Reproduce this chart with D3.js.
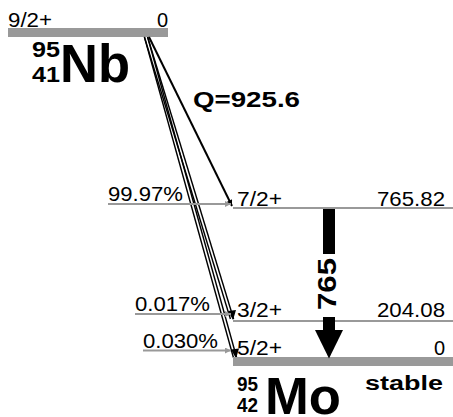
<!DOCTYPE html>
<html>
<head>
<meta charset="utf-8">
<script src="https://cdn.jsdelivr.net/npm/d3@7/dist/d3.min.js"></script>
<style>
  html, body { margin: 0; padding: 0; background: #fff; }
  svg { display: block; font-family: "Liberation Sans", Arial, sans-serif; }
</style>
</head>
<body>
<svg id="chart" width="453" height="417"></svg>
<script>
// Decay of 95Nb (9/2+, Q = 925.6 keV) to levels of 95Mo
const parentLevel = { spin: "9/2+", energy: "0", mass: "95", z: "41", symbol: "Nb" };
const qValue = 925.6;
const levelEnergies = [765.82, 204.08, 0];
const levelSpins = ["7/2+", "3/2+", "5/2+"];
const levelLabels = ["765.82", "204.08", "0"];
const branchIntensities = ["99.97%", "0.017%", "0.030%"];
const gammaEnergies = ["765"];
const daughter = { mass: "95", z: "42", symbol: "Mo", note: "stable" };

const svg = d3.select("#chart");
const grey = "#999";

// piecewise energy axis (the scheme is not drawn to scale)
const y = d3.scaleLinear()
  .domain([0, 204.08, 765.82, qValue])
  .range([361.5, 321, 208, 32.5]);

const parentX = [8, 168];
const daughterX = [233, 453];

// per-level placement of the feeding arrows and their intensity labels
const feedStartX = d3.scaleOrdinal().domain(levelLabels).range([108, 135, 143]);
const feedOffset = d3.scaleOrdinal().domain(levelLabels).range([-4, -7, -11]);
const feedWidth = d3.scaleOrdinal().domain(levelLabels).range([75, 75, 75]);
const labelOffset = d3.scaleOrdinal().domain(levelLabels).range([-2, -4, -6]);

function label(g, x, yy, txt, size, opts = {}) {
  const t = g.append("text").attr("x", x).attr("y", yy)
    .attr("font-size", size).text(txt);
  if (opts.anchor) t.attr("text-anchor", opts.anchor);
  if (opts.bold) t.attr("font-weight", "bold");
  if (opts.width) t.attr("textLength", opts.width).attr("lengthAdjust", "spacingAndGlyphs");
  if (opts.fill) t.attr("fill", opts.fill);
  return t;
}

// arrowheads
const defs = svg.append("defs");
[["ga", grey], ["ba", "#000"]].forEach(([id, c]) => {
  defs.append("marker").attr("id", id).attr("viewBox", "0 0 10 10")
    .attr("refX", 10).attr("refY", 5).attr("markerWidth", 8).attr("markerHeight", 6)
    .attr("markerUnits", "userSpaceOnUse").attr("orient", "auto")
    .append("path").attr("d", "M0,0L10,5L0,10Z").attr("fill", c);
});

// parent level
svg.append("rect").attr("x", parentX[0]).attr("y", y(qValue) - 4.5)
  .attr("width", parentX[1] - parentX[0]).attr("height", 9).attr("fill", grey);
label(svg, parentX[0], y(qValue) - 6, parentLevel.spin, 20, { width: 44 });
label(svg, parentX[1], y(qValue) - 6, parentLevel.energy, 20, { anchor: "end" });

// parent nuclide label
label(svg, 60, 57, parentLevel.mass, 22, { anchor: "end", bold: true, width: 28 });
label(svg, 60, 82, parentLevel.z, 22, { anchor: "end", bold: true, width: 28 });
label(svg, 60, 82, parentLevel.symbol, 54, { bold: true, width: 70 });

// Q value
label(svg, 193, 107, "Q=" + qValue, 22, { bold: true, width: 107 });

// beta branches from the parent level
const betaStart = [146, y(qValue) + 4.5];
levelEnergies.forEach((e, i) => {
  const end = e === 0 ? [235, y(e) - 4] : [232, y(e) - 2];
  if (i === 0) {
    svg.append("line").attr("x1", betaStart[0] + 3).attr("y1", betaStart[1])
      .attr("x2", end[0]).attr("y2", end[1])
      .attr("stroke", "#000").attr("stroke-width", 2).attr("marker-end", "url(#ba)");
  } else {
    // weak branches drawn as doubled strokes
    [-1.6, 1.6].forEach(d => {
      svg.append("line").attr("x1", betaStart[0] + d).attr("y1", betaStart[1])
        .attr("x2", end[0] + d).attr("y2", end[1])
        .attr("stroke", "#000").attr("stroke-width", 1.4);
    });
    svg.append("path")
      .attr("d", `M${end[0] - 4},${end[1] - 8}L${end[0] + 4},${end[1] - 9}L${end[0] + 1},${end[1] + 1}Z`)
      .attr("fill", "#000");
  }
});

// daughter levels
levelEnergies.forEach((e, i) => {
  const yy = y(e);
  if (e === 0) {
    svg.append("rect").attr("x", daughterX[0]).attr("y", yy - 4.5)
      .attr("width", daughterX[1] - daughterX[0]).attr("height", 9).attr("fill", grey);
  } else {
    svg.append("line").attr("x1", daughterX[0]).attr("x2", daughterX[1])
      .attr("y1", yy).attr("y2", yy).attr("stroke", grey).attr("stroke-width", 2);
  }
  const ty = e === 0 ? yy - 7 : yy + labelOffset(levelLabels[i]);
  label(svg, daughterX[0] + 4, ty, levelSpins[i], 20, { width: 45 });
  label(svg, 445, ty, levelLabels[i], 20, { anchor: "end", width: levelLabels[i].length > 1 ? 68 : null });

  // feeding intensity arrow
  const fy = yy + feedOffset(levelLabels[i]);
  svg.append("line").attr("x1", feedStartX(levelLabels[i])).attr("x2", daughterX[0] - 2)
    .attr("y1", fy).attr("y2", fy).attr("stroke", grey).attr("stroke-width", 2)
    .attr("marker-end", "url(#ga)");
  label(svg, feedStartX(levelLabels[i]), fy - 3, branchIntensities[i], 20,
    { width: feedWidth(levelLabels[i]) });
});

// gamma transition 765.82 -> 0
const gx = 329;
const g = svg.append("g");
g.append("rect").attr("x", gx - 6).attr("y", y(765.82) + 1)
  .attr("width", 12).attr("height", 45).attr("fill", "#000");
g.append("rect").attr("x", gx - 6).attr("y", 317)
  .attr("width", 12).attr("height", 14).attr("fill", "#000");
g.append("path").attr("d", `M${gx - 14},330L${gx + 14},330L${gx},${y(0) - 3}Z`).attr("fill", "#000");
g.append("text").attr("transform", `translate(${gx + 7},284) rotate(-90)`)
  .attr("text-anchor", "middle").attr("font-weight", "bold").attr("font-size", 25)
  .attr("textLength", 52).attr("lengthAdjust", "spacingAndGlyphs")
  .text(gammaEnergies[0]);

// daughter nuclide label
label(svg, 258, 391, daughter.mass, 21, { anchor: "end", bold: true, width: 21 });
label(svg, 258, 412, daughter.z, 21, { anchor: "end", bold: true, width: 21 });
label(svg, 265, 414, daughter.symbol, 52, { bold: true, width: 76 });
label(svg, 365, 390, daughter.note, 20, { bold: true, width: 78 });
</script>
</body>
</html>
